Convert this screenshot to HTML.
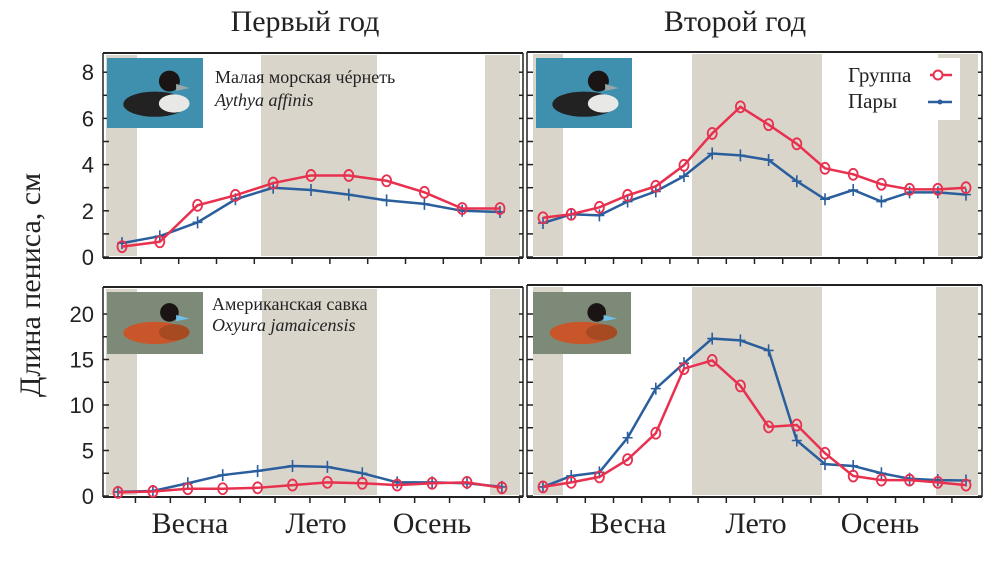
<!DOCTYPE html>
<html><head><meta charset="utf-8"><style>
body{margin:0;background:#fff;width:1000px;height:568px;overflow:hidden}
svg{display:block}
text{font-family:"Liberation Sans",sans-serif}
.ser{font-family:"Liberation Serif",serif}
</style></head><body>
<svg id="c" width="1000" height="568" viewBox="0 0 1000 568">
<text class="ser" x="305" y="31" font-size="30" text-anchor="middle" fill="#222">Первый год</text>
<text class="ser" x="735" y="31" font-size="30" text-anchor="middle" fill="#222">Второй год</text>
<text class="ser" transform="translate(40,285) rotate(-90)" font-size="30" text-anchor="middle" fill="#222">Длина пениса, см</text>
<g id="seasons" font-size="30" fill="#222" text-anchor="middle">
<text class="ser" x="190" y="533">Весна</text>
<text class="ser" x="316" y="533">Лето</text>
<text class="ser" x="432" y="533">Осень</text>
<text class="ser" x="628" y="533">Весна</text>
<text class="ser" x="756" y="533">Лето</text>
<text class="ser" x="880" y="533">Осень</text>
</g>
</svg>
<script>
// Data
const tlRed=[0.45,0.66,2.24,2.67,3.2,3.53,3.53,3.3,2.8,2.1,2.1];
const tlBlue=[0.6,0.9,1.5,2.5,3.0,2.9,2.7,2.45,2.3,2.0,1.95];
const trRed=[1.7,1.85,2.15,2.67,3.06,3.97,5.35,6.5,5.73,4.9,3.84,3.58,3.15,2.93,2.93,3.0];
const trBlue=[1.47,1.85,1.8,2.4,2.84,3.5,4.48,4.4,4.2,3.28,2.5,2.9,2.4,2.8,2.8,2.7];
const blRed=[0.4,0.5,0.8,0.8,0.9,1.2,1.5,1.4,1.2,1.4,1.5,0.9];
const blBlue=[0.45,0.55,1.4,2.3,2.75,3.3,3.2,2.5,1.5,1.5,1.4,1.0];
const brRed=[1.0,1.5,2.1,4.0,6.9,14.0,14.9,12.1,7.6,7.8,4.7,2.2,1.75,1.75,1.5,1.2];
const brBlue=[1.0,2.2,2.6,6.4,11.8,14.6,17.3,17.1,16.0,6.1,3.5,3.3,2.5,1.9,1.75,1.7];
const topTicks=[0,2,4,6,8];
const botTicks=[0,5,10,15,20];

const NS='http://www.w3.org/2000/svg';
const svg=document.getElementById('c');
function mk(tag,attrs,parent){const e=document.createElementNS(NS,tag);for(const k in attrs)e.setAttribute(k,attrs[k]);(parent||svg).appendChild(e);return e;}
const RED='#e8304f',BLUE='#2a5e9c',SHADE='#d9d5cb';

function panel(p){
  const g=mk('g',{});
  
  
  const y=v=>p.y0-(v-0)*p.ky;
  const x=i=>p.x0+i*p.dx;
  p.shades.forEach(s=>{const r=mk('rect',{x:s[0],y:p.top+2,width:s[1]-s[0],height:p.bot-p.top-4,fill:SHADE},g);
    
    });
  mk('line',{x1:p.L,y1:p.top,x2:p.R,y2:p.top,stroke:'#222','stroke-width':2},g);
  mk('line',{x1:p.L,y1:p.bot,x2:p.R,y2:p.bot,stroke:'#222','stroke-width':2},g);
  mk('line',{x1:p.L,y1:p.top,x2:p.L,y2:p.bot,stroke:'#222','stroke-width':1.5},g);
  mk('line',{x1:p.R,y1:p.top,x2:p.R,y2:p.bot,stroke:'#222','stroke-width':1.5},g);
  for(let i=0;i<p.n;i++){const xx=x(i)+p.dx/2;if(xx<p.R-3)mk('line',{x1:xx,y1:p.bot,x2:xx,y2:p.bot+6,stroke:'#222','stroke-width':1.5},g);}
  const step=(p.ticks[1]-p.ticks[0])/2;
  for(let v=0;v<=p.ticks[p.ticks.length-1]+step*0.5;v+=step){
    const yy=y(v);
    mk('line',{x1:p.L,y1:yy,x2:p.L+6,y2:yy,stroke:'#222','stroke-width':1.5},g);
    mk('line',{x1:p.R,y1:yy,x2:p.R-4,y2:yy,stroke:'#222','stroke-width':1.5},g);
  }
  if(p.labels){p.ticks.forEach(v=>{const t=mk('text',{x:p.L-9,y:y(v)+8,'font-size':22,'text-anchor':'end',fill:'#222'},g);t.textContent=v;
    
    });}
  [[p.blue,BLUE,'plus'],[p.red,RED,'circle']].forEach(([d,c,m])=>{
    const pl=mk('polyline',{points:d.map((v,i)=>x(i)+','+y(v)).join(' '),fill:'none',stroke:c,'stroke-width':2.5},g);
    
    
    d.forEach((v,i)=>{
      let e;
      if(m==='circle'){e=mk('ellipse',{cx:x(i),cy:y(v),rx:4.5,ry:5.5,fill:'none',stroke:c,'stroke-width':1.8},g);}
      else{e=mk('path',{d:`M${x(i)-5},${y(v)}h10M${x(i)},${y(v)-6}v12`,stroke:c,'stroke-width':1.6},g);}
      
      
    });
  });
}
panel({name:'panel-scaup-year1',L:103,R:523,top:53,bot:258,x0:122,dx:37.8,n:11,y0:257,ky:23.1,ticks:topTicks,labels:true,red:tlRed,blue:tlBlue,shades:[[106,137],[261,377],[485,520]]});
panel({name:'panel-scaup-year2',L:527,R:982,top:52,bot:258,x0:543,dx:28.2,n:16,y0:257,ky:23.1,ticks:topTicks,labels:false,red:trRed,blue:trBlue,shades:[[533,563],[692,822],[938,978]]});
panel({name:'panel-ruddy-year1',L:103,R:523,top:287,bot:497,x0:118,dx:34.9,n:12,y0:496,ky:9.1,ticks:botTicks,labels:true,red:blRed,blue:blBlue,shades:[[106,137],[262,377],[490,520]]});
panel({name:'panel-ruddy-year2',L:527,R:982,top:285,bot:497,x0:543,dx:28.2,n:16,y0:496,ky:9.1,ticks:botTicks,labels:false,red:brRed,blue:brBlue,shades:[[533,563],[692,822],[936,978]]});

function duck(x,y,w,h,bg,body,name){
  const g=mk('g',{});
  
  
  mk('rect',{x,y,width:w,height:h,fill:bg},g);
  mk('ellipse',{cx:x+w*0.5,cy:y+h*0.66,rx:w*0.33,ry:h*0.18,fill:body},g);
  mk('ellipse',{cx:x+w*0.7,cy:y+h*0.65,rx:w*0.16,ry:h*0.13,fill:body===('#c8562a')?'#a64a22':'#e8e8e6'},g);
  mk('circle',{cx:x+w*0.65,cy:y+h*0.33,r:h*0.15,fill:'#1a1414'},g);
  mk('path',{d:`M${x+w*0.72},${y+h*0.37} l${w*0.14},${h*0.06} l-${w*0.14},${h*0.04}z`,fill:body==='#c8562a'?'#6fc0e8':'#9aa6a8'},g);
}
duck(107,58,96,70,'#3f8fae','#222',"scaup-photo");
duck(536,58,96,70,'#3f8fae','#222',"scaup-photo-2");
duck(107,292,96,62,'#7d8a78','#c8562a',"ruddy-photo");
duck(533,292,98,62,'#7d8a78','#c8562a',"ruddy-photo-2");
function txt(x,y,s,str,name,it){const t=mk('text',{x,y,'font-size':s,fill:'#222',class:'ser'});if(it)t.setAttribute('font-style','italic');t.textContent=str;
  
  }
txt(215,83,18,'Малая морская чéрнеть','species-name-scaup');
txt(215,106,18,'Aythya affinis','latin-name-scaup',true);
txt(212,310,18,'Американская савка','species-name-ruddy');
txt(212,331,18,'Oxyura jamaicensis','latin-name-ruddy',true);
const lg=mk('g',{});


mk('rect',{x:842,y:58,width:118,height:62,fill:'#fff'},lg);
const t1=mk('text',{x:848,y:82,'font-size':21,fill:'#222',class:'ser'},lg);t1.textContent='Группа';


mk('line',{x1:930,y1:75,x2:952,y2:75,stroke:RED,'stroke-width':2.5},lg);
mk('circle',{cx:938,cy:75,r:4.5,fill:'#fff',stroke:RED,'stroke-width':2},lg);
const t2=mk('text',{x:848,y:108,'font-size':21,fill:'#222',class:'ser'},lg);t2.textContent='Пары';


mk('line',{x1:928,y1:102,x2:952,y2:102,stroke:BLUE,'stroke-width':2.5},lg);
mk('circle',{cx:940,cy:102,r:2.5,fill:BLUE},lg);
</script>
</body></html>
